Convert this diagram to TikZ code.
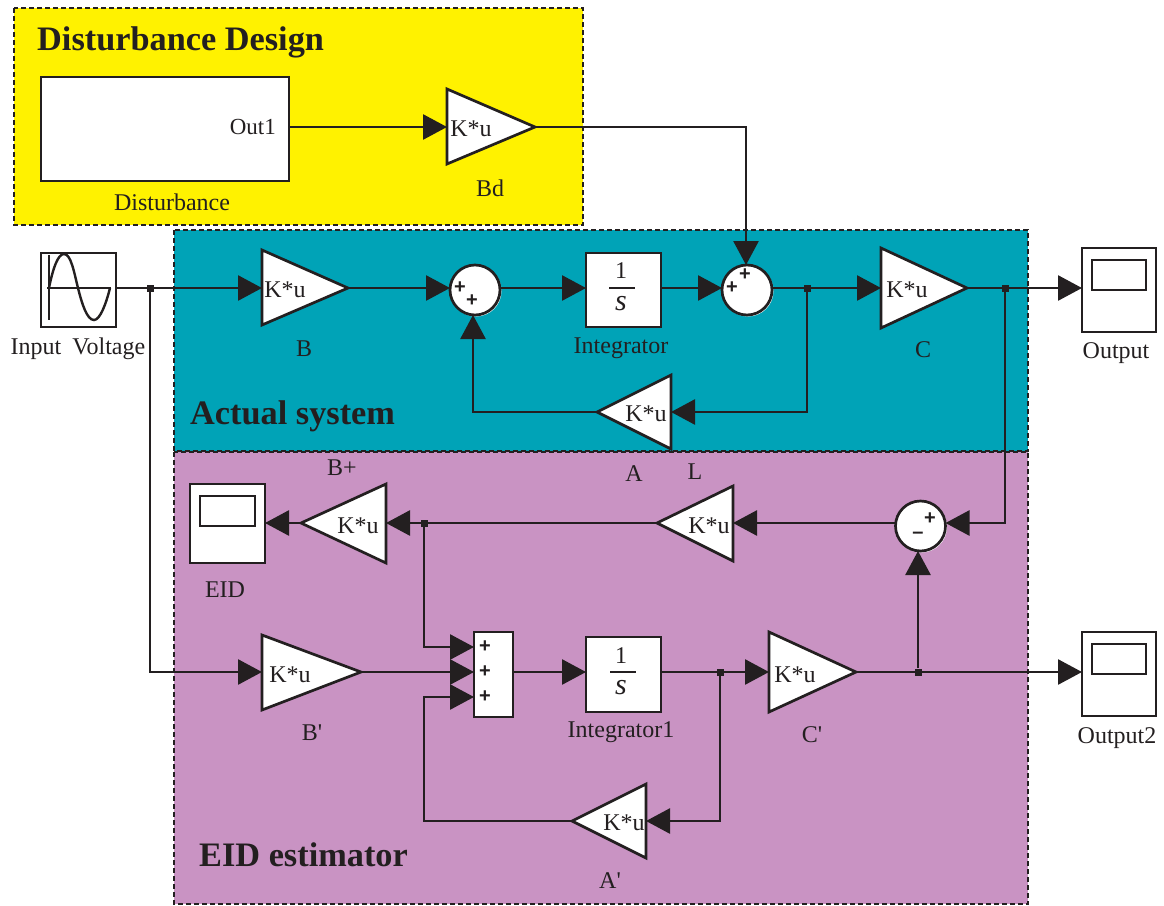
\documentclass[tikz,border=0pt]{standalone}
\usepackage{fontspec}
\setmainfont{Liberation Serif}
\newfontfamily\plainserif{Liberation Serif}
\newfontfamily\signfont{Liberation Sans}
\usetikzlibrary{arrows.meta}
\definecolor{ink}{HTML}{231F20}
\definecolor{yellowbg}{HTML}{FFF200}
\definecolor{tealbg}{HTML}{00A3B7}
\definecolor{purplebg}{HTML}{C993C3}
\newcommand{\gainblock}[7]{% name, back x, top y, bottom y, tip x, mid y, text position
  \draw[blockline,fill=white] (#2,#3) -- (#2,#4) -- (#5,#6) -- cycle;
  \coordinate (#1-back) at (#2,#6);
  \coordinate (#1-tip) at (#5,#6);
  \node[gaintext] (#1-text) at #7 {K*u};
}
\newcommand{\scopeblock}[5]{% name, x0, y0, x1, y1
  \node[boxnode,minimum width={#4-#2},minimum height={#5-#3},anchor=north west] (#1) at (#2,#3) {};
  \draw[blockline] (#2+10,#3+12) rectangle (#4-10,#3+42);
}
\tikzset{
  x=1pt,y=-1pt,
  blockline/.style={draw=ink,line width=2.7pt},
  boxnode/.style={blockline,fill=white,inner sep=0,outer sep=0},
  wire/.style={draw=ink,line width=2.7pt},
  arrowwire/.style={wire,-{Triangle[length=24pt,width=25pt,color=ink]}},
  region/.style={draw=ink,line width=2pt,dash pattern=on 5pt off 3pt},
  label/.style={text=ink,font=\fontsize{24}{28}\selectfont,inner sep=0,yshift=-1.5pt},
  gaintext/.style={text=ink,font=\fontsize{24}{28}\selectfont,inner sep=0},
  titletext/.style={text=ink,font=\bfseries\fontsize{34.3}{38}\selectfont,inner sep=0},
  sumcircle/.style={circle,blockline,fill=white,minimum size=50pt,inner sep=0,outer sep=0},
  sign/.style={text=ink,font=\signfont\bfseries\fontsize{20}{22}\selectfont,inner sep=0},
  junction/.style={fill=ink,inner sep=0,minimum size=7pt,rectangle},
}
\begin{document}
\begin{tikzpicture}
\useasboundingbox (0,0) rectangle (1164,905);
% regions
\filldraw[region,fill=yellowbg] (14,8) rectangle (583,225);
\filldraw[region,fill=tealbg] (174,230) rectangle (1028,451);
\filldraw[region,fill=purplebg] (174,452) rectangle (1028,904);
\node[titletext,anchor=west] (t1) at (37,42) {Disturbance Design};
\node[titletext,anchor=west] (t2) at (190,416) {Actual system};
\node[titletext,anchor=west] (t3) at (199,855) {EID estimator};

% blocks
\node[boxnode,minimum width=248pt,minimum height=104pt,anchor=north west] (dist) at (41,77) {};
\node[label,anchor=east,font=\fontsize{23}{27}\selectfont] (out1) at (276,125) {Out1};
\node[boxnode,minimum width=75pt,minimum height=74pt,anchor=north west] (src) at (41,253) {};
\draw[ink,line width=2.2pt] (49,255) -- (49,320);
\draw[ink,line width=2.2pt] (47,288) -- (111,288);
\draw[ink,line width=2.4pt] (49,288) .. controls (53,268) and (58,254) .. (64,254) .. controls (71,254) and (74,272) .. (78,288) .. controls (82,304) and (87,320) .. (94,320) .. controls (100,320) and (106,304) .. (110,288);

\gainblock{bd}{447}{89}{164}{535}{127}{(471,129)}
\gainblock{b}{262}{250}{325}{348}{288}{(285,290)}
\gainblock{c}{881}{248}{328}{967}{288}{(907,290)}
\gainblock{l1}{671}{375}{449}{597}{412}{(646,414)}
\gainblock{l2}{733}{486}{561}{657}{523}{(709,526)}
\gainblock{bp}{386}{484}{563}{301}{523}{(358,526)}
\gainblock{bq}{262}{635}{710}{361}{672}{(290,675)}
\gainblock{cq}{769}{632}{712}{856}{672}{(795,675)}
\gainblock{aq}{646}{784}{858}{572}{821}{(624,823)}

\fill[white] (476,291) circle (25.5);
\fill[white] (748,291) circle (25.5);
\fill[white] (921.5,527) circle (25.5);
\node[sumcircle] (s1) at (475,290) {};
\node[sumcircle] (s2) at (747,290) {};
\node[sumcircle] (s3) at (920.5,526) {};
\node[sign] (s1a) at (460,288) {+};
\node[sign] (s1b) at (472,301) {+};
\node[sign] (s2a) at (732,288) {+};
\node[sign] (s2b) at (745,275) {+};
\node[sign] (s3a) at (930,519) {+};
\node[sign] (s3b) at (918,535) {–};

\node[boxnode,minimum width=75pt,minimum height=74pt,anchor=north west] (int1) at (586,253) {};
\node[gaintext] (int1n) at (621,271) {1};
\node[gaintext,font=\itshape\fontsize{30}{32}\selectfont] (int1d) at (621,304) {s};
\draw[ink,line width=2.2pt] (609,288) -- (635,288);
\node[boxnode,minimum width=75pt,minimum height=75pt,anchor=north west] (int2) at (586,637) {};
\node[gaintext] (int2n) at (621,656) {1};
\node[gaintext,font=\itshape\fontsize{30}{32}\selectfont] (int2d) at (621,688) {s};
\draw[ink,line width=2.2pt] (610,672) -- (636,672);

\scopeblock{so}{1082}{248}{1156}{332}
\scopeblock{se}{190}{484}{265}{563}
\scopeblock{so2}{1082}{632}{1156}{716}

\node[boxnode,minimum width=39pt,minimum height=85pt,anchor=north west] (mux) at (474,632) {};
\node[sign] (m1) at (485,647) {+};
\node[sign] (m2) at (485,672) {+};
\node[sign] (m3) at (485,697) {+};

% junctions
\node[junction] (j1) at (150,288) {};
\node[junction] (j2) at (807,288) {};
\node[junction] (j3) at (1005,288) {};
\node[junction] (j4) at (424,523) {};
\node[junction] (j5) at (720,672) {};
\node[junction] (j6) at (918,672) {};

% connectors
\coordinate (c1) at (746,127);
\coordinate (c2) at (473,412);
\coordinate (c3) at (807,412);
\coordinate (c4) at (1005,523);
\coordinate (c5) at (424,647);
\coordinate (c6) at (150,672);
\coordinate (c7) at (720,821);
\coordinate (c8) at (424,821);
\coordinate (c9) at (424,697);
\coordinate (m1in) at (474,647);
\coordinate (m2in) at (474,672);
\coordinate (m3in) at (474,697);
\draw[arrowwire] (dist.east |- bd-back) -- (bd-back);
\draw[arrowwire] (bd-tip) -- (c1) -- (s2.north -| c1);
\draw[arrowwire] (src.east |- j1) -- (b-back);
\draw[arrowwire] (b-tip) -- (s1.west |- j1);
\draw[arrowwire] (s1.east |- j1) -- (int1.west |- j1);
\draw[arrowwire] (int1.east |- j1) -- (s2.west |- j1);
\draw[arrowwire] (s2.east |- j1) -- (c-back);
\draw[arrowwire] (c-tip) -- (so.west |- j3);
\draw[arrowwire] (j2) -- (c3) -- (l1-back);
\draw[arrowwire] (l1-tip) -- (c2) -- (s1.south -| c2);
\draw[arrowwire] (j3) -- (c4) -- (s3.east |- c4);
\draw[arrowwire] (s3.west |- c4) -- (l2-back);
\draw[arrowwire] (l2-tip) -- (bp-back);
\draw[arrowwire] (bp-tip) -- (se.east |- bp-tip);
\draw[arrowwire] (j4) -- (c5) -- (m1in);
\draw[arrowwire] (j1) -- (c6) -- (bq-back);
\draw[arrowwire] (bq-tip) -- (m2in);
\draw[arrowwire] (mux.east |- j5) -- (int2.west |- j5);
\draw[arrowwire] (int2.east |- j5) -- (cq-back);
\draw[arrowwire] (cq-tip) -- (so2.west |- j6);
\draw[arrowwire] (j6) -- (s3.south -| j6);
\draw[arrowwire] (j5) -- (c7) -- (aq-back);
\draw[arrowwire] (aq-tip) -- (c8) -- (c9) -- (m3in);

% labels
\node[label] (ldist) at (172,201) {Disturbance};
\node[label] (lbd) at (490,187) {Bd};
\node[label] (lsrc) at (78,347) {Input\hspace{5pt} Voltage};
\node[label] (lb) at (304,347) {B};
\node[label] (lint1) at (621,347) {Integrator};
\node[label] (lc) at (923,348) {C};
\node[label] (lo) at (1116,352) {Output};
\node[label] (lbp) at (342,466) {B+};
\node[label] (la) at (634,472) {A};
\node[label] (ll) at (695,470) {L};
\node[label] (le) at (225,588) {EID};
\node[label,font=\plainserif\fontsize{24}{28}\selectfont] (lbq) at (312,731) {B'};
\node[label] (lint2) at (621,731) {Integrator1};
\node[label,font=\plainserif\fontsize{24}{28}\selectfont] (lcq) at (812,733) {C'};
\node[label] (lo2) at (1117,737) {Output2};
\node[label,font=\plainserif\fontsize{24}{28}\selectfont] (laq) at (610,879) {A'};
\end{tikzpicture}
\end{document}
